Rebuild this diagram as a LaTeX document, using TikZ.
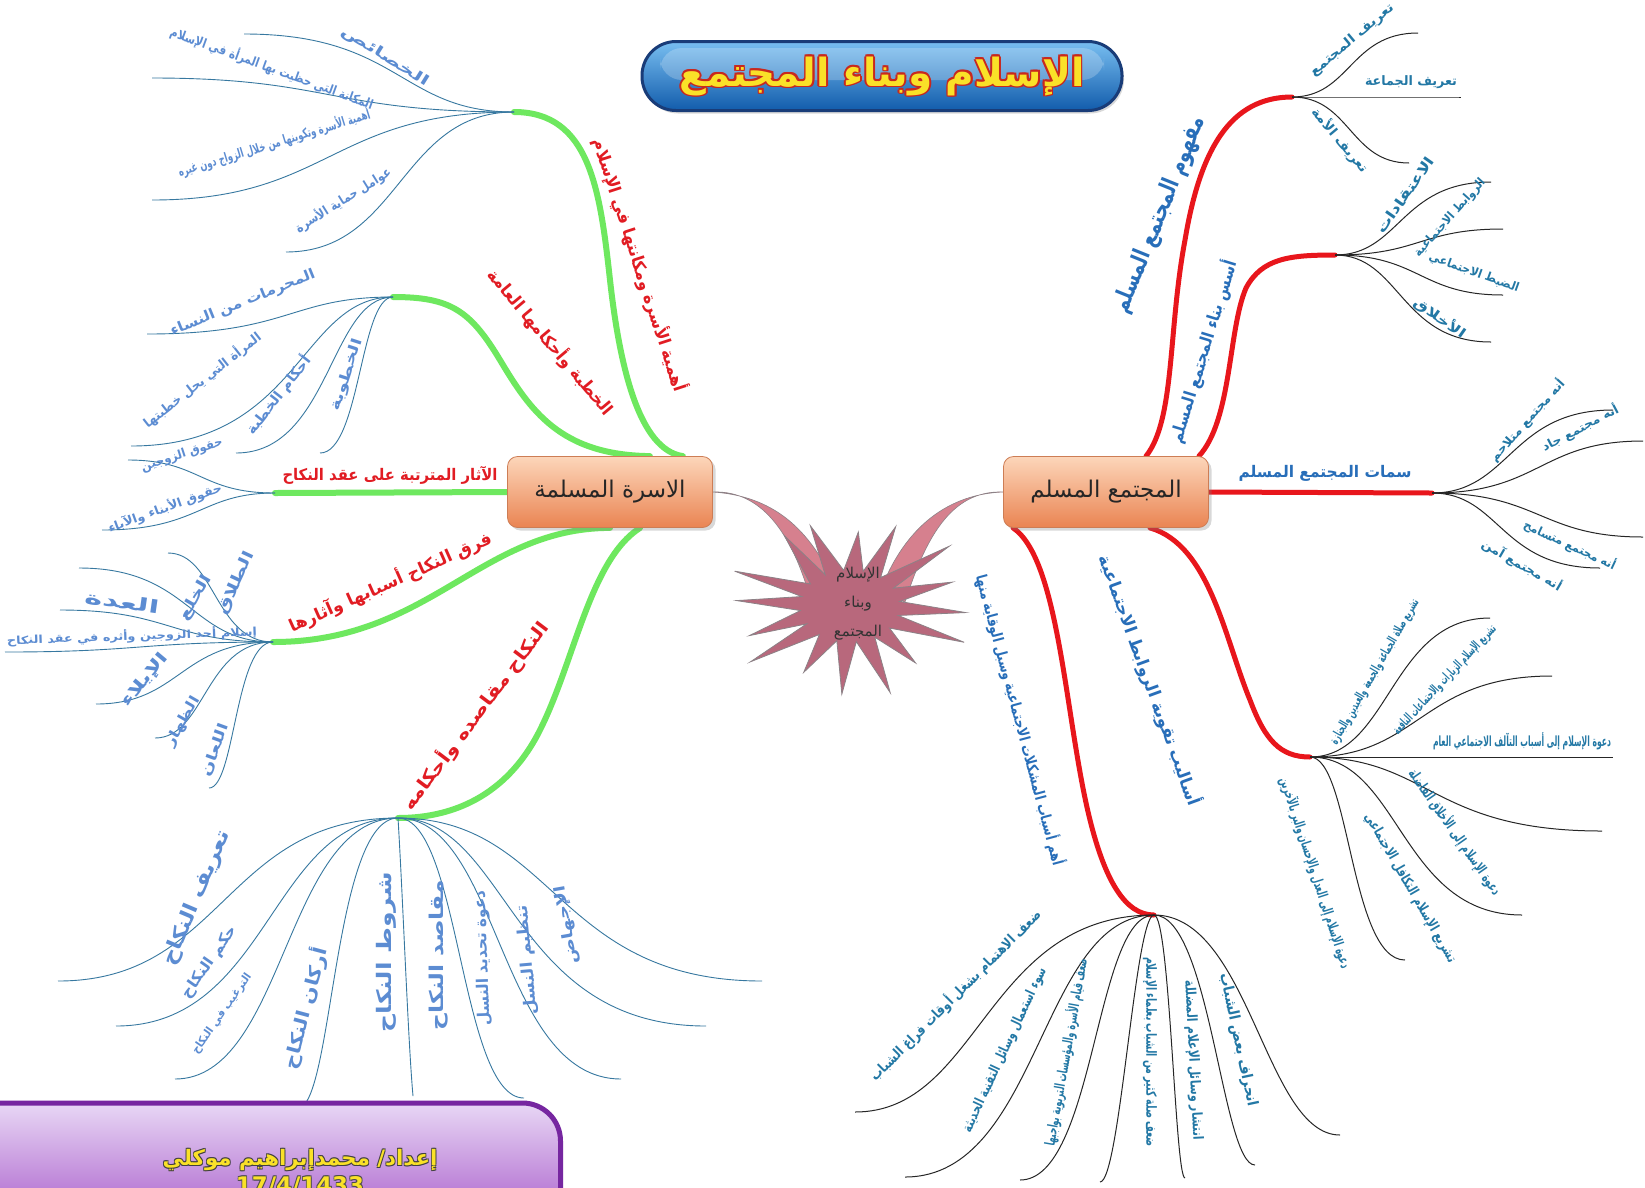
\documentclass[tikz,border=0pt]{standalone}
\usepackage{fontspec}
\usepackage{graphicx}
\usetikzlibrary{shadows}
\TeXXeTstate=1
\newfontfamily\arabicfont[Script=Arabic]{DejaVu Sans}

\definecolor{leafblue}{RGB}{92,140,210}
\definecolor{leafline}{RGB}{55,120,160}
\definecolor{rleafc}{RGB}{35,120,165}
\definecolor{bigblue}{RGB}{40,110,185}
\definecolor{redtext}{RGB}{225,28,35}
\definecolor{brgreen}{RGB}{110,232,95}
\definecolor{brred}{RGB}{232,22,28}
\definecolor{starfill}{RGB}{184,104,124}
\definecolor{starline}{RGB}{140,130,135}
\definecolor{taperfill}{RGB}{214,128,142}
\definecolor{orangetop}{RGB}{252,214,186}
\definecolor{orangebot}{RGB}{234,132,82}
\definecolor{orangeline}{RGB}{205,125,85}
\definecolor{titletop}{RGB}{120,190,240}
\definecolor{titlebot}{RGB}{18,92,172}
\definecolor{titleline}{RGB}{25,60,120}
\definecolor{glyphfill}{RGB}{250,225,40}
\definecolor{glyphedge}{RGB}{200,40,30}
\definecolor{lilac}{RGB}{232,215,245}
\definecolor{plum}{RGB}{165,85,200}
\definecolor{plumline}{RGB}{118,38,160}

\pgfdeclarelayer{bg}
\pgfsetlayers{bg,main}

% text squeezed or stretched to a given width (in pt), height kept
\newcommand\fitw[2]{\resizebox{#1pt}{\height}{#2}}
% text with a coloured rim: #1 rim, #2 fill, #3 rim width, #4 content
\newcommand\ringtext[4]{%
  \setbox0=\hbox{#4}%
  \dimen0=#3\relax \dimen2=0.7\dimen0
  \hbox{%
    \rlap{\color{#1}\kern\dimen0\copy0}%
    \rlap{\color{#1}\kern-\dimen0\copy0}%
    \rlap{\color{#1}\raise\dimen0\copy0}%
    \rlap{\color{#1}\lower\dimen0\copy0}%
    \rlap{\color{#1}\kern\dimen2\raise\dimen2\copy0}%
    \rlap{\color{#1}\kern-\dimen2\raise\dimen2\copy0}%
    \rlap{\color{#1}\kern\dimen2\lower\dimen2\copy0}%
    \rlap{\color{#1}\kern-\dimen2\lower\dimen2\copy0}%
    {\color{#2}\copy0}}}

\begin{document}
\begin{tikzpicture}[x=1pt,y=-1pt,
  mainbox/.style={rounded corners=10pt,minimum width=205pt,minimum height=71pt,
    top color=orangetop,bottom color=orangebot,draw=orangeline,line width=0.8pt,
    drop shadow={opacity=0.3,shadow xshift=3pt,shadow yshift=-3pt},
    font=\arabicfont\fontsize{23}{26}\selectfont,text=black!85},
  greenbr/.style={draw=brgreen,line width=6pt,line cap=round},
  redbr/.style={draw=brred,line width=5pt,line cap=round},
  lline/.style={draw=leafline,line width=0.9pt},
  rline/.style={draw=black!85,line width=1pt},
  lleaf/.style={inner sep=0pt,text=leafblue,font=\arabicfont\bfseries\fontsize{#1}{#1}\selectfont},
  rleaf/.style={inner sep=0pt,text=rleafc,font=\arabicfont\bfseries\fontsize{#1}{#1}\selectfont},
  redlab/.style={inner sep=0pt,text=redtext,font=\arabicfont\bfseries\fontsize{#1}{#1}\selectfont},
  bluelab/.style={inner sep=0pt,text=bigblue,font=\arabicfont\bfseries\fontsize{#1}{#1}\selectfont},
  taper/.style={fill=taperfill,draw=starline,line width=0.6pt},
]
\useasboundingbox (0,0) rectangle (1645,1187);
\begin{pgfonlayer}{bg}
  \fill[white] (0,0) rectangle (1645,1187);
\end{pgfonlayer}

% ---------- title ----------
\node[rounded corners=34pt,minimum width=480pt,minimum height=69pt,
  top color=titletop,bottom color=titlebot,draw=titleline,line width=3pt,
  drop shadow={opacity=0.3,shadow xshift=2pt,shadow yshift=-3pt},inner sep=0pt]
  (title) at (882,76) {};
\fill[white,opacity=0.22,rounded corners=22pt] (660,48) rectangle (1104,80);
\node[inner sep=0pt] (titletext) at (882,76)
  {\ringtext{glyphedge}{glyphfill}{1.8pt}{\resizebox{405pt}{!}{\arabicfont\bfseries\beginR الإسلام وبناء المجتمع\endR}}};

% ---------- central star ----------
\filldraw[fill=starfill,draw=starline,line width=0.8pt]
  plot[variable=\k,samples at={0,...,31}]
  ({850+(mod(\k,2)==0 ? 116+16*sin(\k*67) : 50)*cos(\k*11.25+4)},
   {606+(mod(\k,2)==0 ? 84+10*cos(\k*53) : 36)*sin(\k*11.25+4)}) -- cycle;
\node[font=\arabicfont\fontsize{15}{29}\selectfont,align=center,text=black!80,inner sep=0pt]
  (hub) at (858,604) {\beginR الإسلام\endR\\\beginR وبناء\endR\\\beginR المجتمع\endR};
\coordinate (hubL1) at (812,605);
\coordinate (hubL2) at (838,592);
\coordinate (hubR1) at (880,592);
\coordinate (hubR2) at (905,602);

% ---------- main topics ----------
\node[mainbox] (lnode) at (610,492) {\beginR الاسرة المسلمة\endR};
\node[mainbox] (rnode) at (1106,492) {\beginR المجتمع المسلم\endR};

% ---------- branches ----------
\begin{pgfonlayer}{bg}
  \filldraw[taper] (lnode.east) .. controls (765,490) and (795,540) .. (hubL1)
    -- (hubL2) .. controls (810,525) and (770,496) .. (lnode.east) -- cycle;
  \filldraw[taper] (rnode.west) .. controls (950,494) and (905,525) .. (hubR1)
    -- (hubR2) .. controls (925,540) and (950,490) .. (rnode.west) -- cycle;

  \coordinate (hubA) at (514,112);
  \coordinate (hubB) at (393,297);
  \coordinate (hubC) at (275,493);
  \coordinate (hubD) at (273,642);
  \coordinate (hubE) at (398,818);
  \coordinate (hubF) at (1292,97);
  \coordinate (hubG) at (1335,255);
  \coordinate (hubH) at (1432,493);
  \coordinate (hubI) at (1310,757);
  \coordinate (hubJ) at (1154,915);

  % family side
  \draw[greenbr] ([xshift=-30pt]lnode.north east) .. controls (640,450) and (620,370) .. (610,280)
    .. controls (600,190) and (590,112) .. (hubA);
  \draw[greenbr] ([xshift=-63pt]lnode.north east) .. controls (560,455) and (530,410) .. (500,360)
    .. controls (470,310) and (450,297) .. (hubB);
  \draw[greenbr] (lnode.west) -- (hubC);
  \draw[greenbr] (lnode.south) .. controls (480,528) and (430,642) .. (hubD);
  \draw[greenbr] ([xshift=30pt]lnode.south) .. controls (590,560) and (575,660) .. (540,730)
    .. controls (510,790) and (460,818) .. (hubE);

  % society side
  \draw[redbr] ([xshift=40pt]rnode.north) .. controls (1175,420) and (1168,330) .. (1185,240)
    .. controls (1200,150) and (1230,97) .. (hubF);
  \draw[redbr] ([xshift=-10pt]rnode.north east) .. controls (1232,420) and (1228,330) .. (1246,288)
    .. controls (1262,258) and (1290,255) .. (hubG);
  \draw[redbr] (rnode.east) -- (hubH);
  \draw[redbr] ([xshift=44pt]rnode.south) .. controls (1210,545) and (1225,640) .. (1250,700)
    .. controls (1265,740) and (1280,757) .. (hubI);
  \draw[redbr] ([xshift=10pt]rnode.south west) .. controls (1060,560) and (1065,720) .. (1090,820)
    .. controls (1105,880) and (1125,915) .. (hubJ);

  % sub-topic lines
  \foreach \n/\ex/\ey/\xv in {1/244/34/400,2/152/78/330,3/152/200/330,4/286/252/400}
    {\coordinate (ea\n) at (\ex,\ey);
     \draw[lline] (hubA) .. controls (\xv,112) and (\xv,\ey) .. (ea\n);}
  \foreach \n/\ex/\ey/\xv in {1/147/334/290,2/131/446/300,3/236/453/330,4/320/453/360}
    {\coordinate (eb\n) at (\ex,\ey);
     \draw[lline] (hubB) .. controls (\xv,297) and (\xv,\ey) .. (eb\n);}
  \foreach \n/\ex/\ey/\xv in {1/128/460/200,2/102/530/200}
    {\coordinate (ec\n) at (\ex,\ey);
     \draw[lline] (hubC) .. controls (\xv,493) and (\xv,\ey) .. (ec\n);}
  \foreach \n/\ex/\ey/\xv in {1/168/553/215,2/79/568/190,3/60/610/170,4/5/652/140,
                              5/96/704/180,6/155/738/205,7/209/788/235}
    {\coordinate (ed\n) at (\ex,\ey);
     \draw[lline] (hubD) .. controls (\xv,642) and (\xv,\ey) .. (ed\n);}
  \foreach \n/\ax/\ay/\bx/\by/\ex/\ey in {1/224/818/224/981/58/981,2/270/818/270/1026/116/1026,
      3/285/818/285/1079/175/1079,4/333/818/333/1108/298/1108,5/403/900/408/1040/413/1096,
      6/460/818/460/1098/524/1098,7/499/818/499/1079/621/1079,8/509/818/509/1026/706/1026,
      9/555/818/555/981/762/981}
    {\coordinate (ee\n) at (\ex,\ey);
     \draw[lline] (hubE) .. controls (\ax,\ay) and (\bx,\by) .. (ee\n);}

  \foreach \n/\ex/\ey/\xv in {1/1418/33/1350,2/1461/97/1380,3/1409/163/1350}
    {\coordinate (ef\n) at (\ex,\ey);
     \draw[rline] (hubF) .. controls (\xv,97) and (\xv,\ey) .. (ef\n);}
  \foreach \n/\ex/\ey/\xv in {1/1491/182/1400,2/1503/229/1420,3/1503/295/1420,4/1491/342/1400}
    {\coordinate (eg\n) at (\ex,\ey);
     \draw[rline] (hubG) .. controls (\xv,255) and (\xv,\ey) .. (eg\n);}
  \foreach \n/\ex/\ey/\xv in {1/1613/410/1510,2/1643/441/1540,3/1643/537/1540,4/1600/568/1500}
    {\coordinate (eh\n) at (\ex,\ey);
     \draw[rline] (hubH) .. controls (\xv,493) and (\xv,\ey) .. (eh\n);}
  \foreach \n/\ex/\ey/\xv in {1/1490/618/1390,2/1552/676/1420,3/1613/757/1450,
                              4/1602/831/1430,5/1522/915/1400,6/1405/960/1350}
    {\coordinate (ei\n) at (\ex,\ey);
     \draw[rline] (hubI) .. controls (\xv,757) and (\xv,\ey) .. (ei\n);}
  \foreach \n/\ax/\ay/\bx/\by/\ex/\ey in {1/985/915/980/1112/855/1112,2/1040/915/1040/1177/905/1177,
      3/1095/915/1095/1180/1020/1180,4/1135/915/1120/1182/1100/1182,5/1170/915/1175/1178/1185/1178,
      6/1210/915/1222/1165/1255/1165,7/1250/915/1265/1135/1340/1135}
    {\coordinate (ej\n) at (\ex,\ey);
     \draw[rline] (hubJ) .. controls (\ax,\ay) and (\bx,\by) .. (ej\n);}
\end{pgfonlayer}

% ---------- main branch captions ----------
\node[redlab=17,rotate=-72] (capA) at (640,265) {\fitw{265}{\beginR أهمية الأسرة ومكانتها في الإسلام\endR}};
\node[redlab=17,rotate=-50] (capB) at (551,342) {\fitw{185}{\beginR الخطبة وأحكامها العامة\endR}};
\node[redlab=16] (capC) at (390,475) {\fitw{215}{\beginR الآثار المترتبة على عقد النكاح\endR}};
\node[redlab=17,rotate=24] (capD) at (390,582) {\fitw{220}{\beginR فرق النكاح أسبابها وآثارها\endR}};
\node[redlab=18,rotate=53] (capE) at (475,716) {\fitw{230}{\beginR النكاح مقاصده وأحكامه\endR}};
\node[bluelab=24,rotate=68] (capF) at (1160,215) {\fitw{210}{\beginR مفهوم المجتمع المسلم\endR}};
\node[bluelab=17,rotate=73] (capG) at (1203,352) {\fitw{190}{\beginR أسس بناء المجتمع المسلم\endR}};
\node[bluelab=16] (capH) at (1325,473) {\fitw{173}{\beginR سمات المجتمع المسلم\endR}};
\node[bluelab=17,rotate=-70] (capI) at (1150,680) {\fitw{265}{\beginR أساليب تقوية الروابط الاجتماعية\endR}};
\node[bluelab=15,rotate=-75] (capJ) at (1020,720) {\fitw{300}{\beginR أهم أسباب المشكلات الاجتماعية وسبل الوقاية منها\endR}};

% ---------- sub-topic captions ----------
\foreach \n/\x/\y/\r/\s/\w/\txt in {
    a1/385/57/-32/14/100/\beginR الخصائص\endR,
    a2/272/68/-20/13/215/\beginR المكانة التي حظيت بها المرأة في الإسلام\endR,
    a3/274/143/17/13/200/\beginR أهمية الأسرة وتكوينها من خلال الزواج دون غيره\endR,
    a4/343/200/32/13/110/\beginR عوامل حماية الأسرة\endR,
    b1/243/303/22/14/155/\beginR المحرمات من النساء\endR,
    b2/202/380/38/13/145/\beginR المرأة التي يحل خطبتها\endR,
    b3/278/395/52/14/95/\beginR أحكام الخطبة\endR,
    b4/347/375/72/14/75/\beginR الخطوبة\endR,
    c1/182/455/18/12/85/\beginR حقوق الزوجين\endR,
    c2/165/508/20/12/120/\beginR حقوق الأبناء والآباء\endR,
    d1/236/583/65/15/68/\beginR الطلاق\endR,
    d2/196/598/60/15/50/\beginR الخلع\endR,
    d3/122/602/-8/18/75/\beginR العدة\endR,
    d4/132/636/2/11/250/\beginR إسلام أحد الزوجين وأثره في عقد النكاح\endR,
    d5/145/680/50/16/65/\beginR الإيلاء\endR,
    d6/183/722/60/14/55/\beginR الظهار\endR,
    d7/215/750/70/14/55/\beginR اللعان\endR,
    e1/197/898/67/20/145/\beginR تعريف النكاح\endR,
    e2/210/962/55/15/85/\beginR حكم النكاح\endR,
    e3/222/1014/55/11/95/\beginR الترغيب في النكاح\endR,
    e4/305/1008/75/18/125/\beginR أركان النكاح\endR,
    e5/386/952/90/20/160/\beginR شروط النكاح\endR,
    e6/439/955/90/19/150/\beginR مقاصد النكاح\endR,
    e7/483/958/92/16/135/\beginR دعوة تحديد النسل\endR,
    e8/528/960/95/16/110/\beginR تنظيم النسل\endR,
    e9/567/925/100/15/80/\beginR الإجهاض\endR}
  {\node[lleaf=\s,rotate=\r] (t\n) at (\x,\y) {\fitw{\w}{\txt}};}

\foreach \n/\x/\y/\r/\s/\w/\txt in {
    f1/1352/40/40/13/105/\beginR تعريف المجتمع\endR,
    f2/1411/82/0/13/92/\beginR تعريف الجماعة\endR,
    f3/1340/140/-50/13/80/\beginR تعريف الأمة\endR,
    g1/1405/195/55/14/90/\beginR الاعتقادات\endR,
    g2/1450/218/48/12/100/\beginR الروابط الاجتماعية\endR,
    g3/1474/273/-20/12/95/\beginR الضبط الاجتماعي\endR,
    g4/1440/318/-35/13/60/\beginR الأخلاق\endR,
    h1/1527/420/48/12/105/\beginR أنه مجتمع متلاحم\endR,
    h2/1580/428/28/12/85/\beginR أنه مجتمع جاد\endR,
    h3/1570/545/-25/12/100/\beginR أنه مجتمع متسامح\endR,
    h4/1522/565/-30/12/90/\beginR أنه مجتمع آمن\endR,
    i1/1375/672/60/13/165/\beginR تشريع صلاة الجماعة والجمعة والعيدين والجنازة\endR,
    i2/1445/680/47/13/145/\beginR تشريع الإسلام الزيارات والاجتماعات النافعة\endR,
    i3/1522/741/0/14/178/\beginR دعوة الإسلام إلى أسباب التآلف الاجتماعي العام\endR,
    i4/1455/832/-55/14/150/\beginR دعوة الإسلام إلى الأخلاق الفاضلة\endR,
    i5/1410/888/-60/14/170/\beginR تشريع الإسلام التكافل الاجتماعي\endR,
    i6/1315/873/-72/14/200/\beginR دعوة الإسلام إلى العدل والإحسان والبر بالآخرين\endR,
    j1/955/995/45/14/235/\beginR ضعف الاهتمام بشغل أوقات فراغ الشباب\endR,
    j2/1005/1050/65/14/180/\beginR سوء استعمال وسائل التقنية الحديثة\endR,
    j3/1066/1052/80/14/190/\beginR ضعف قيام الأسرة والمؤسسات التربوية بواجبها\endR,
    j4/1150/1052/-90/14/190/\beginR ضعف صلة كثير من الشباب بعلماء الإسلام\endR,
    j5/1193/1060/-87/14/160/\beginR انتشار وسائل الإعلام المضللة\endR,
    j6/1238/1040/-78/15/135/\beginR انحراف بعض الشباب\endR}
  {\node[rleaf=\s,rotate=\r] (t\n) at (\x,\y) {\fitw{\w}{\txt}};}

% ---------- credit box ----------
\node[rounded corners=38pt,minimum width=601pt,minimum height=130pt,
  top color=lilac,bottom color=plum,draw=plumline,line width=5pt,inner sep=0pt]
  (creditbox) at (260,1168) {};
\node[inner sep=0pt] (credit) at (300,1160)
  {\ringtext{black!75}{glyphfill}{1pt}{\resizebox{275pt}{!}{\arabicfont\bfseries\beginR إعداد/ محمدإبراهيم موكلي\endR}}};
\node[inner sep=0pt] (creditdate) at (300,1186)
  {\ringtext{black!70}{glyphfill}{1pt}{\resizebox{128pt}{!}{\arabicfont\bfseries 17/4/1433}}};
\end{tikzpicture}
\end{document}
